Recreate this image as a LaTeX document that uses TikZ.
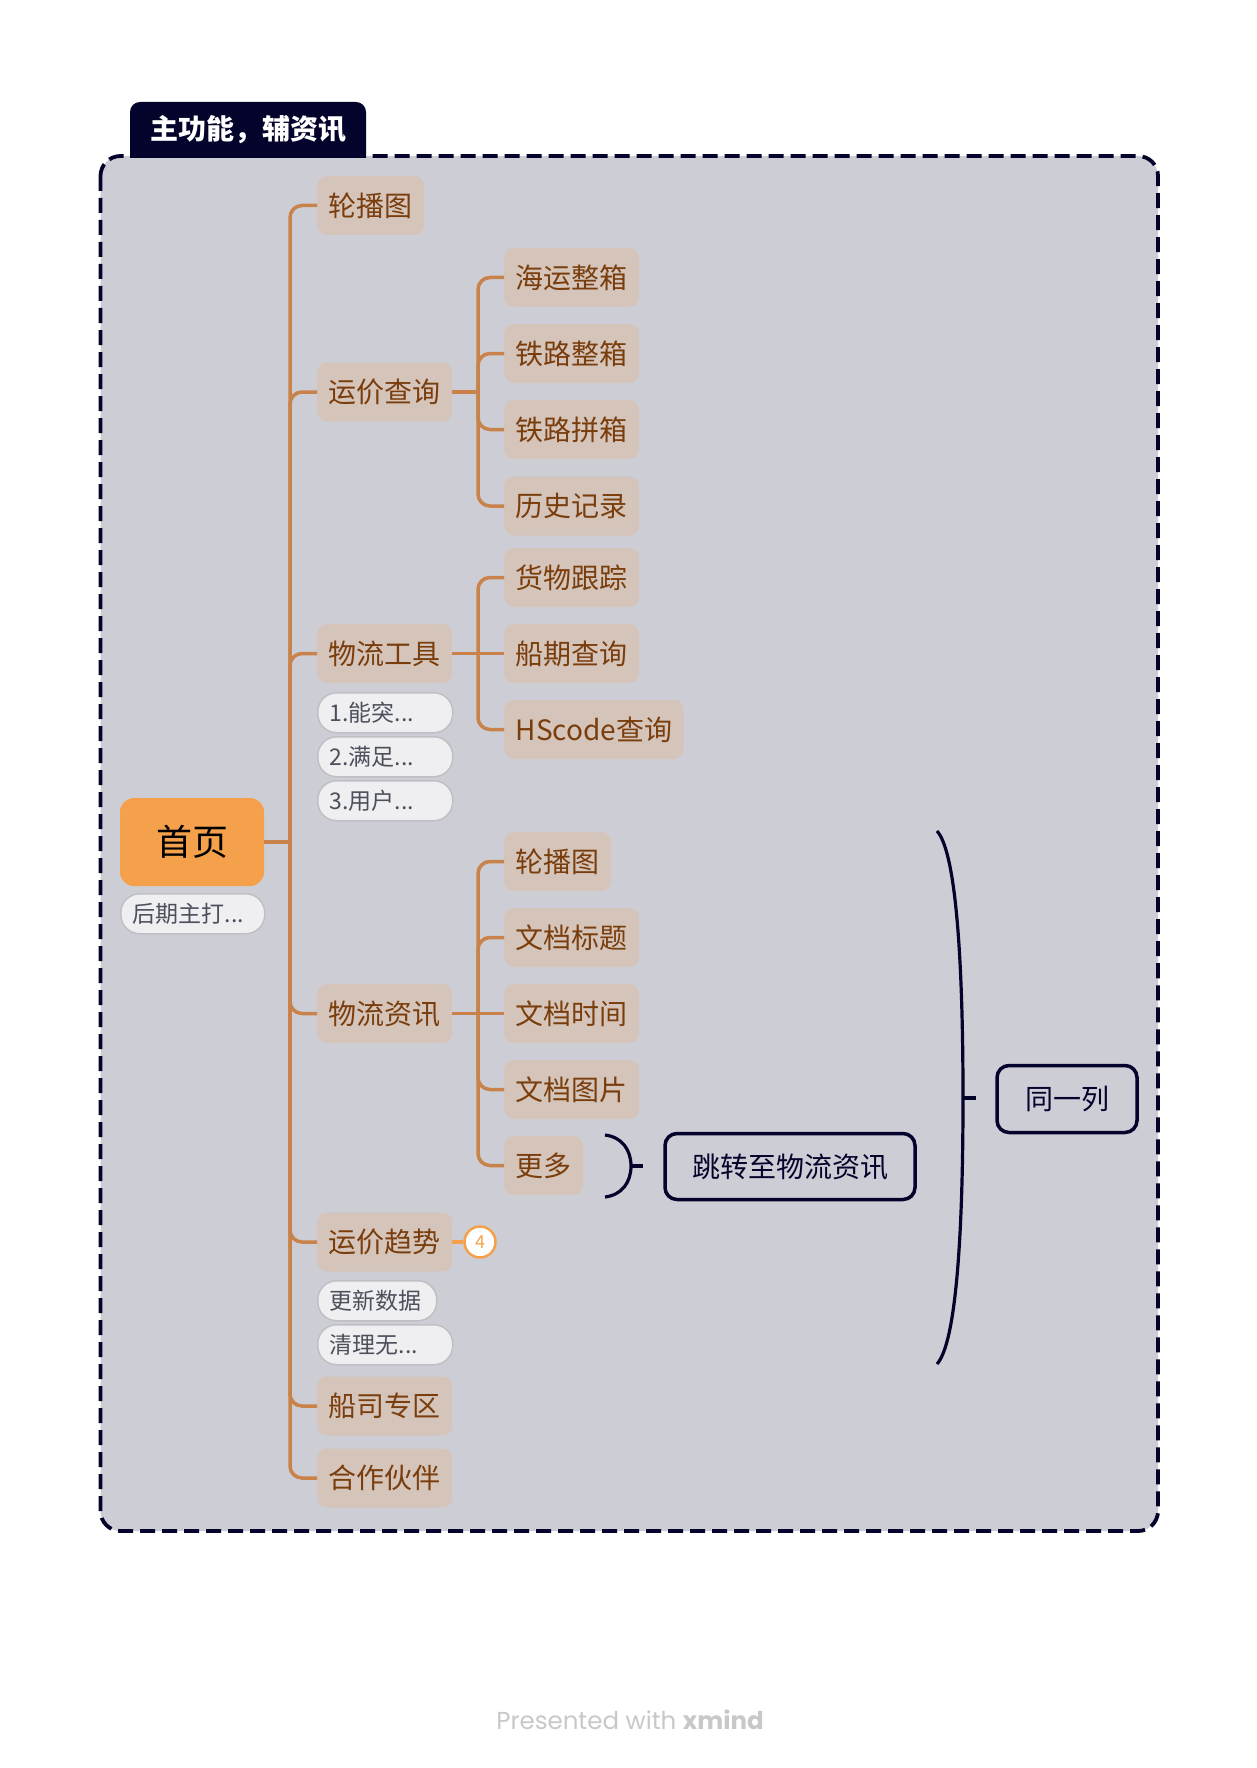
\documentclass[tikz,border=0pt]{standalone}
\usepackage{fontspec}
\setmainfont{Noto Sans CJK SC}
\newfontfamily\footfont{Poppins}
\definecolor{bgc}{HTML}{CDCDD5}
\definecolor{navy}{HTML}{03032B}
\definecolor{topicfill}{HTML}{D5C4BA}
\definecolor{topictext}{HTML}{7A3D0C}
\definecolor{connc}{HTML}{C8824A}
\definecolor{homeor}{HTML}{F5A14C}
\definecolor{notefill}{HTML}{EFEFF2}
\definecolor{noteborder}{HTML}{BFBFC4}
\definecolor{notetext}{HTML}{4B505A}
\definecolor{footc}{HTML}{C8C8C8}
\begin{document}
\begin{tikzpicture}[x=1pt,y=-1pt,
  topic/.style={fill=topicfill, text=topictext, rounded corners=10, minimum height=59,
    inner xsep=11.5, inner ysep=0, font=\fontsize{28}{28}\selectfont,
    text height=24.6, text depth=3.4, anchor=west},
  note/.style={fill=notefill, draw=noteborder, line width=1.5, rounded corners=19,
    minimum height=40, inner xsep=12, inner ysep=0, font=\fontsize{23}{23}\selectfont,
    text=notetext, text height=20.2, text depth=2.8, align=left, text width=#1, anchor=north west},
  conn/.style={draw=connc, line width=3.5, rounded corners=12},
  navybox/.style={draw=navy, line width=3.5, rounded corners=12, text=navy,
    font=\fontsize{28}{28}\selectfont, text height=24.6, text depth=3.4, inner sep=0},
  navyline/.style={draw=navy, line width=3.2}
]
\useasboundingbox (0,0) rectangle (1256,1768);
\fill[white] (0,0) rectangle (1256,1768);
% container
\draw[draw=navy, fill=bgc, line width=3.8, dash pattern=on 15pt off 7pt, rounded corners=20]
  (100.5,156) rectangle (1158,1531);
% title tab
\fill[navy] (130,158) -- (130,112) arc[start angle=180, end angle=270, radius=10]
  -- (356,102) arc[start angle=270, end angle=360, radius=10] -- (366,158) -- cycle;
\node[text=white, font=\fontsize{28}{28}\selectfont\bfseries] (title) at (248,130) {主功能，辅资讯};

% root
\node[fill=homeor, rounded corners=14, minimum width=144, minimum height=88, inner sep=0,
  font=\fontsize{36}{36}\selectfont, text height=31.7, text depth=4.3] (home) at (192,842) {首页};
\node[note=120] (h1) at (120,893) {后期主打...};

% level 1
\node[topic] (a1) at (317,205.5) {轮播图};
\node[topic] (a2) at (317,392) {运价查询};
\node[topic] (a3) at (317,653.5) {物流工具};
\node[topic] (a4) at (317,1013.5) {物流资讯};
\node[topic] (a5) at (317,1242) {运价趋势};
\node[topic] (a6) at (317,1406) {船司专区};
\node[topic] (a7) at (317,1478) {合作伙伴};

% notes
\node[note=111] (n1) at (317,692) {1.能突...};
\node[note=111] (n2) at (317,736) {2.满足...};
\node[note=111] (n3) at (317,780) {3.用户...};
\node[note=95] (m1) at (317,1280) {更新数据};
\node[note=111] (m2) at (317,1324) {清理无...};

% level 2
\node[topic] (b1) at (504,277.5) {海运整箱};
\node[topic] (b2) at (504,353.5) {铁路整箱};
\node[topic] (b3) at (504,429.5) {铁路拼箱};
\node[topic] (b4) at (504,506) {历史记录};
\node[topic] (c1) at (504,577.5) {货物跟踪};
\node[topic] (c2) at (504,653.5) {船期查询};
\node[topic] (c3) at (504,729.5) {HScode查询};
\node[topic] (d1) at (504,861.5) {轮播图};
\node[topic] (d2) at (504,937.5) {文档标题};
\node[topic] (d3) at (504,1013.5) {文档时间};
\node[topic] (d4) at (504,1089.5) {文档图片};
\node[topic] (d5) at (504,1165.5) {更多};

% connectors
\coordinate (hub) at (290,842);
\draw[conn] (home.east) -- (hub);
\foreach \n in {a1,a2,a3,a4,a5,a6,a7} \draw[conn] (hub) |- (\n.west);
\coordinate (h2) at (478,392);
\draw[conn] (a2.east) -- (h2);
\foreach \n in {b1,b2,b3,b4} \draw[conn] (h2) |- (\n.west);
\coordinate (h3) at (478,653.5);
\draw[conn] (a3.east) -- (c2.west);
\foreach \n in {c1,c3} \draw[conn] (h3) |- (\n.west);
\coordinate (h4) at (478,1013.5);
\draw[conn] (a4.east) -- (d3.west);
\foreach \n in {d1,d2,d4,d5} \draw[conn] (h4) |- (\n.west);

% badge
\node[circle, draw=homeor, fill=white, line width=2.5, minimum size=31, inner sep=0,
  text=homeor, font=\fontsize{18}{18}\selectfont] (k4) at (480,1242) {4};
\draw[draw=homeor, line width=3.5] (a5.east) -- (k4);

% summary boxes
\node[navybox, minimum width=250, minimum height=66] (jump) at (790,1166.5) {跳转至物流资讯};
\node[navybox, minimum width=140, minimum height=67] (same) at (1067,1099) {同一列};

% small bracket
\coordinate (s1) at (605,1135);
\coordinate (s2) at (631,1166);
\coordinate (s3) at (605,1197);
\coordinate (st) at (643,1166);
\draw[navyline] (s1) .. controls (622,1137) and (631,1150) .. (s2)
  .. controls (631,1182) and (622,1195) .. (s3);
\draw[navyline] (s2) -- (st);

% big bracket
\coordinate (g1) at (937,831);
\coordinate (g2) at (963,1098);
\coordinate (g3) at (937,1364);
\coordinate (gt) at (976,1098);
\draw[navyline] (g1) .. controls (956,852) and (963,960) .. (g2)
  .. controls (963,1236) and (956,1343) .. (g3);
\draw[navyline] (g2) -- (gt);

% footer
\node[text=footc, font=\footfont\fontsize{24.5}{24.5}\selectfont] (foot) at (630,1720)
  {Presented with \textbf{xmind}};
\end{tikzpicture}
\end{document}
